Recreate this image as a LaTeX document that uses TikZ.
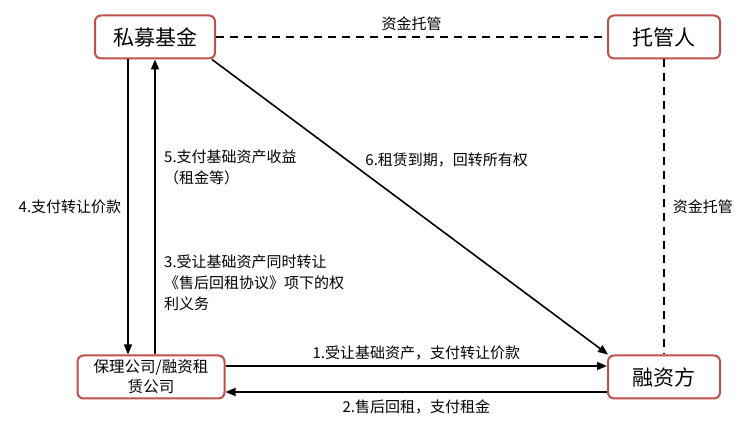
\documentclass[tikz,border=0pt]{standalone}
\usepackage{fontspec}
\setmainfont{Noto Sans CJK SC}
\usetikzlibrary{arrows.meta, positioning}
\definecolor{boxred}{HTML}{C0504D}
\tikzset{
  boxnode/.style={draw=boxred,line width=2pt,rounded corners=6pt,fill=white,minimum height=43pt,inner sep=2pt,font=\fontsize{21}{24}\selectfont,align=center},
  lbl/.style={font=\fontsize{15}{21}\selectfont,inner sep=0pt},
  flowedge/.style={-{Triangle[length=10pt,width=8pt]},line width=1.6pt,black},
  trustedge/.style={dashed,dash pattern=on 8pt off 6pt,line width=1.6pt,black},
}
\begin{document}
\begin{tikzpicture}[x=1pt,y=-1pt]
  \useasboundingbox (0,0) rectangle (747,443);
  \node[boxnode,minimum width=120pt] (nFund) at (155,37) {私募基金};
  \node[boxnode,minimum width=112pt] (nCust) at (664,37) {托管人};
  \node[boxnode,minimum width=147pt,font=\fontsize{15.5}{20}\selectfont] (nLease) at (151,377) {保理公司/融资租\\赁公司};
  \node[boxnode,minimum width=112pt] (nFin) at (664,377) {融资方};
  % custody
  \draw[trustedge] (nFund) -- node[lbl,above=5pt] {资金托管} (nCust);
  \draw[trustedge] (nCust) -- node[lbl,right=8pt] {资金托管} (nFin);
  % flows between fund and lessor
  \draw[flowedge] (nFund.south -| 128,0) -- node[lbl,left=6pt] {4.支付转让价款} (nLease.north -| 128,0);
  \draw[flowedge] (nLease.north -| 155,0) -- (nFund.south -| 155,0);
  \node[lbl,anchor=north west,align=left] (l5) at (164,150) {5.支付基础资产收益\\（租金等）};
  \node[lbl,anchor=north west,align=left] (l3) at (164,255) {3.受让基础资产同时转让\\《售后回租协议》项下的权\\利义务};
  % lease expiry
  \draw[flowedge] ([xshift=-4pt]nFund.south east) -- node[lbl,pos=0.34,anchor=west,xshift=18pt] {6.租赁到期，回转所有权} ([xshift=1pt]nFin.north west);
  % sale and leaseback
  \draw[flowedge] (nLease.east |- 0,366) -- node[lbl,above=5pt] {1.受让基础资产，支付转让价款} (nFin.west |- 0,366);
  \draw[flowedge] (nFin.west |- 0,392) -- node[lbl,below=7pt] {2.售后回租，支付租金} (nLease.east |- 0,392);
\end{tikzpicture}
\end{document}
